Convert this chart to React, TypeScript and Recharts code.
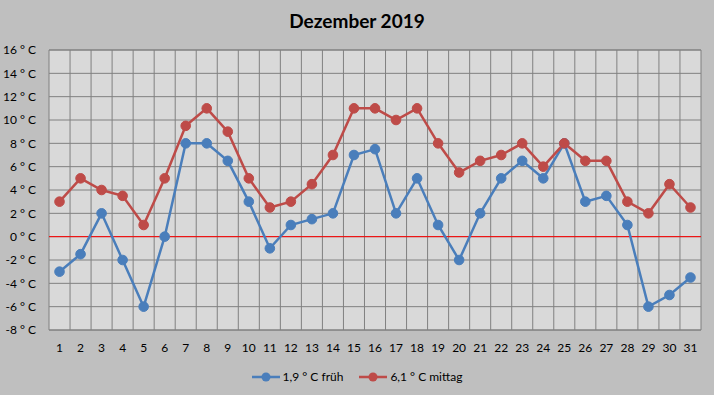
import React from 'react';
import { LineChart, Line, XAxis, YAxis, CartesianGrid, ReferenceLine } from 'recharts';

const title = 'Dezember 2019';
const days = [1, 2, 3, 4, 5, 6, 7, 8, 9, 10, 11, 12, 13, 14, 15, 16, 17, 18, 19, 20, 21, 22, 23, 24, 25, 26, 27, 28, 29, 30, 31];
const frueh = [-3, -1.5, 2, -2, -6, 0, 8, 8, 6.5, 3, -1, 1, 1.5, 2, 7, 7.5, 2, 5, 1, -2, 2, 5, 6.5, 5, 8, 3, 3.5, 1, -6, -5, -3.5];
const mittag = [3, 5, 4, 3.5, 1, 5, 9.5, 11, 9, 5, 2.5, 3, 4.5, 7, 11, 11, 10, 11, 8, 5.5, 6.5, 7, 8, 6, 8, 6.5, 6.5, 3, 2, 4.5, 2.5];
const yTicks = [-8, -6, -4, -2, 0, 2, 4, 6, 8, 10, 12, 14, 16];
const seriesNames = ['1,9 ° C früh', '6,1 ° C mittag'];
const seriesKeys = ['frueh', 'mittag'];
const seriesColors = ['#4A7EBB', '#BE4B48'];

const data = days.map((d, i) => ({ day: d, frueh: frueh[i], mittag: mittag[i] }));
const dayBoundaries = [days[0] - 0.5, ...days.map((d) => d + 0.5)];

const FONT = 'Lato, "Noto Sans", sans-serif';

export default function App() {
  return (
    <div
      style={{
        position: 'fixed',
        left: 0,
        top: 0,
        width: 714,
        height: 395,
        background: '#BFBFBF',
        fontFamily: FONT,
        overflow: 'hidden',
      }}
    >
      <div
        style={{
          position: 'absolute',
          left: 0,
          top: 9,
          width: 714,
          textAlign: 'center',
          fontSize: 19,
          fontWeight: 700,
          lineHeight: '24px',
          color: '#000',
        }}
      >
        {title}
      </div>
      <div style={{ position: 'absolute', left: 0, top: 0 }}>
        <LineChart
          width={714}
          height={395}
          data={data}
          margin={{ top: 50, right: 13, bottom: 45, left: 0 }}
          style={{ fontFamily: FONT }}
        >
          <CartesianGrid
            vertical={false}
            stroke="#808080"
            strokeWidth={1}
            fill="#D9D9D9"
            fillOpacity={1}
          />
          <XAxis
            dataKey="day"
            type="number"
            domain={[0.5, 31.5]}
            ticks={days}
            interval={0}
            allowDataOverflow
            axisLine={false}
            tickLine={false}
            height={20}
            tickMargin={7}
            tick={{ fill: '#000', fontSize: 12 }}
          />
          <YAxis
            type="number"
            domain={[-8, 16]}
            ticks={yTicks}
            interval={0}
            width={49}
            axisLine={false}
            tickLine={false}
            tickMargin={7}
            tick={{ fill: '#000', fontSize: 12 }}
            tickFormatter={(v: number) => `${v} ° C`}
          />
          {dayBoundaries.map((b) => (
            <ReferenceLine key={b} x={b} stroke="#808080" strokeWidth={1} />
          ))}
          <ReferenceLine y={-8} stroke="#808080" strokeWidth={1} />
          <ReferenceLine y={16} stroke="#808080" strokeWidth={1} />
          <ReferenceLine y={0} stroke="#FF0000" strokeWidth={1} />
          {seriesKeys.map((k, i) => (
            <Line
              key={k}
              dataKey={k}
              type="linear"
              stroke={seriesColors[i]}
              strokeWidth={2.5}
              dot={{ r: 4.8, fill: seriesColors[i], stroke: seriesColors[i], strokeWidth: 1 }}
              activeDot={false}
              isAnimationActive={false}
            />
          ))}
        </LineChart>
      </div>
      <div
        style={{
          position: 'absolute',
          left: 0,
          top: 368,
          width: 714,
          display: 'flex',
          justifyContent: 'center',
          alignItems: 'center',
          fontSize: 12,
          color: '#000',
          lineHeight: '18px',
        }}
      >
        {seriesNames.map((n, i) => (
          <div key={n} style={{ display: 'flex', alignItems: 'center', marginRight: i === 0 ? 16 : 0 }}>
            <svg width={28} height={12} style={{ marginRight: 3 }}>
              <line x1={0} y1={6} x2={28} y2={6} stroke={seriesColors[i]} strokeWidth={2.5} />
              <circle cx={14} cy={6} r={4.5} fill={seriesColors[i]} />
            </svg>
            <span>{n}</span>
          </div>
        ))}
      </div>
    </div>
  );
}
